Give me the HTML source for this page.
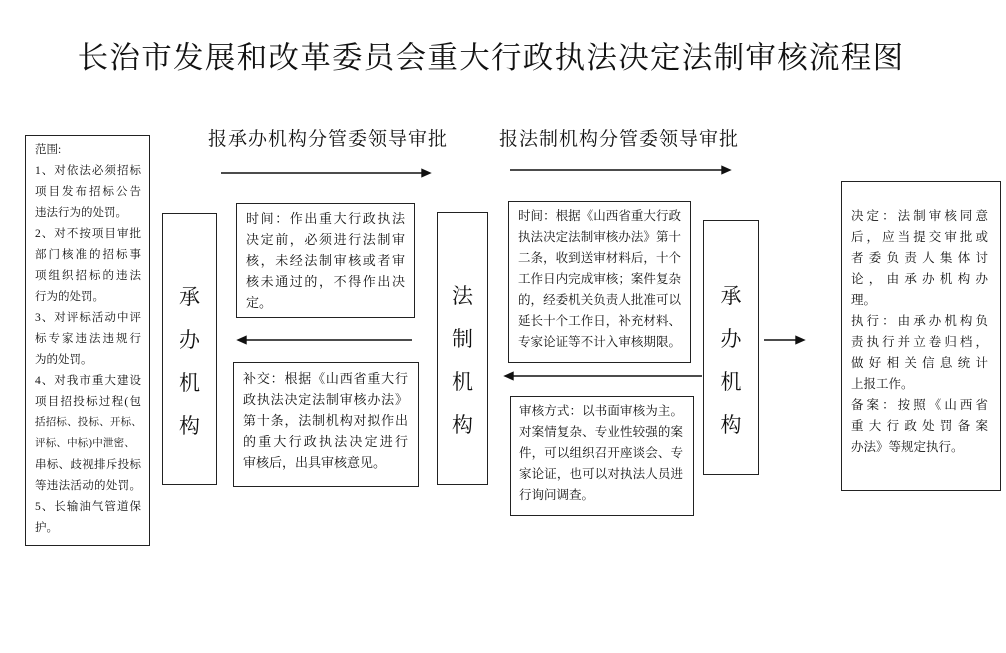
<!DOCTYPE html>
<html><head><meta charset="utf-8"><style>
body{margin:0;width:1006px;height:653px;background:#fff;position:relative;overflow:hidden;font-family:"Liberation Serif","Noto Serif CJK SC","Noto Sans CJK SC",serif;color:#111}
.a{position:absolute}
.b{position:absolute;border:1.3px solid #222;box-sizing:border-box}
.t{position:absolute;line-height:21px}
.t div{text-align:justify;text-align-last:justify;height:21px;overflow:visible}
.t div.l{text-align-last:left}
.t div.s{font-size:10.5px;letter-spacing:0.2px;white-space:nowrap;text-align-last:left}
.v{font-size:21px;text-align:center;line-height:43px}
</style></head><body>
<div class="a" style="left:48px;top:38px;width:886px;text-align:center;font-size:30.5px;line-height:40px;letter-spacing:1.3px">长治市发展和改革委员会重大行政执法决定法制审核流程图</div>
<div class="a" style="left:208px;top:128px;font-size:19px;line-height:24px;letter-spacing:1px">报承办机构分管委领导审批</div>
<div class="a" style="left:499px;top:128px;font-size:19px;line-height:24px;letter-spacing:1px">报法制机构分管委领导审批</div>
<svg class="a" style="left:0;top:0" width="1006" height="653">
<g stroke="#111" stroke-width="1.4" fill="#111">
<line x1="221" y1="173" x2="424" y2="173"/><polygon points="430,173 422,169.5 422,176.5"/>
<line x1="510" y1="170" x2="724" y2="170"/><polygon points="730,170 722,166.5 722,173.5"/>
<line x1="412" y1="340" x2="244" y2="340"/><polygon points="238,340 246,336.5 246,343.5"/>
<line x1="702" y1="376" x2="511" y2="376"/><polygon points="505,376 513,372.5 513,379.5"/>
<line x1="764" y1="340" x2="798" y2="340"/><polygon points="804,340 796,336.5 796,343.5"/>
</g></svg>
<div class="b" style="left:25px;top:135px;width:125px;height:411px"></div>
<div class="t" style="left:35px;top:140px;width:106px;font-size:11.5px;line-height:20.8px">
<div class="l">范围:</div><div>1、对依法必须招标</div><div>项目发布招标公告</div><div class="l">违法行为的处罚。</div><div>2、对不按项目审批</div><div>部门核准的招标事</div><div>项组织招标的违法</div><div class="l">行为的处罚。</div><div>3、对评标活动中评</div><div>标专家违法违规行</div><div class="l">为的处罚。</div><div>4、对我市重大建设</div><div>项目招投标过程(包</div><div class="s">括招标、投标、开标、</div><div class="s">评标、中标)中泄密、</div><div>串标、歧视排斥投标</div><div>等违法活动的处罚。</div><div>5、长输油气管道保</div><div class="l">护。</div></div>
<div class="b v" style="left:162px;top:213px;width:55px;height:272px;padding-top:62px">承<br>办<br>机<br>构</div>
<div class="b" style="left:236px;top:203px;width:179px;height:115px"></div>
<div class="t" style="left:246px;top:208px;width:159px;font-size:13px">
<div>时间：作出重大行政执法</div><div>决定前，必须进行法制审</div><div>核，未经法制审核或者审</div><div>核未通过的，不得作出决</div><div class="l">定。</div></div>
<div class="b" style="left:233px;top:362px;width:186px;height:125px"></div>
<div class="t" style="left:243px;top:368px;width:165px;font-size:13px">
<div>补交：根据《山西省重大行</div><div>政执法决定法制审核办法》</div><div>第十条，法制机构对拟作出</div><div>的重大行政执法决定进行</div><div class="l">审核后，出具审核意见。</div></div>
<div class="b v" style="left:437px;top:212px;width:51px;height:273px;padding-top:62px">法<br>制<br>机<br>构</div>
<div class="b" style="left:508px;top:201px;width:183px;height:162px"></div>
<div class="t" style="left:518px;top:206px;width:163px;font-size:12.5px">
<div>时间：根据《山西省重大行政</div><div>执法决定法制审核办法》第十</div><div>二条，收到送审材料后，十个</div><div>工作日内完成审核；案件复杂</div><div>的，经委机关负责人批准可以</div><div>延长十个工作日，补充材料、</div><div>专家论证等不计入审核期限。</div></div>
<div class="b" style="left:510px;top:396px;width:184px;height:120px"></div>
<div class="t" style="left:519px;top:401px;width:164px;font-size:12.5px">
<div>审核方式：以书面审核为主。</div><div>对案情复杂、专业性较强的案</div><div>件，可以组织召开座谈会、专</div><div>家论证，也可以对执法人员进</div><div class="l">行询问调查。</div></div>
<div class="b v" style="left:703px;top:220px;width:56px;height:255px;padding-top:54px">承<br>办<br>机<br>构</div>
<div class="b" style="left:841px;top:181px;width:160px;height:310px"></div>
<div class="t" style="left:851px;top:206px;width:137px;font-size:12.5px">
<div>决定：法制审核同意</div><div>后，应当提交审批或</div><div>者委负责人集体讨</div><div>论，由承办机构办</div><div class="l">理。</div><div>执行：由承办机构负</div><div>责执行并立卷归档，</div><div>做好相关信息统计</div><div class="l">上报工作。</div><div>备案：按照《山西省</div><div>重大行政处罚备案</div><div class="l">办法》等规定执行。</div></div>
</body></html>
